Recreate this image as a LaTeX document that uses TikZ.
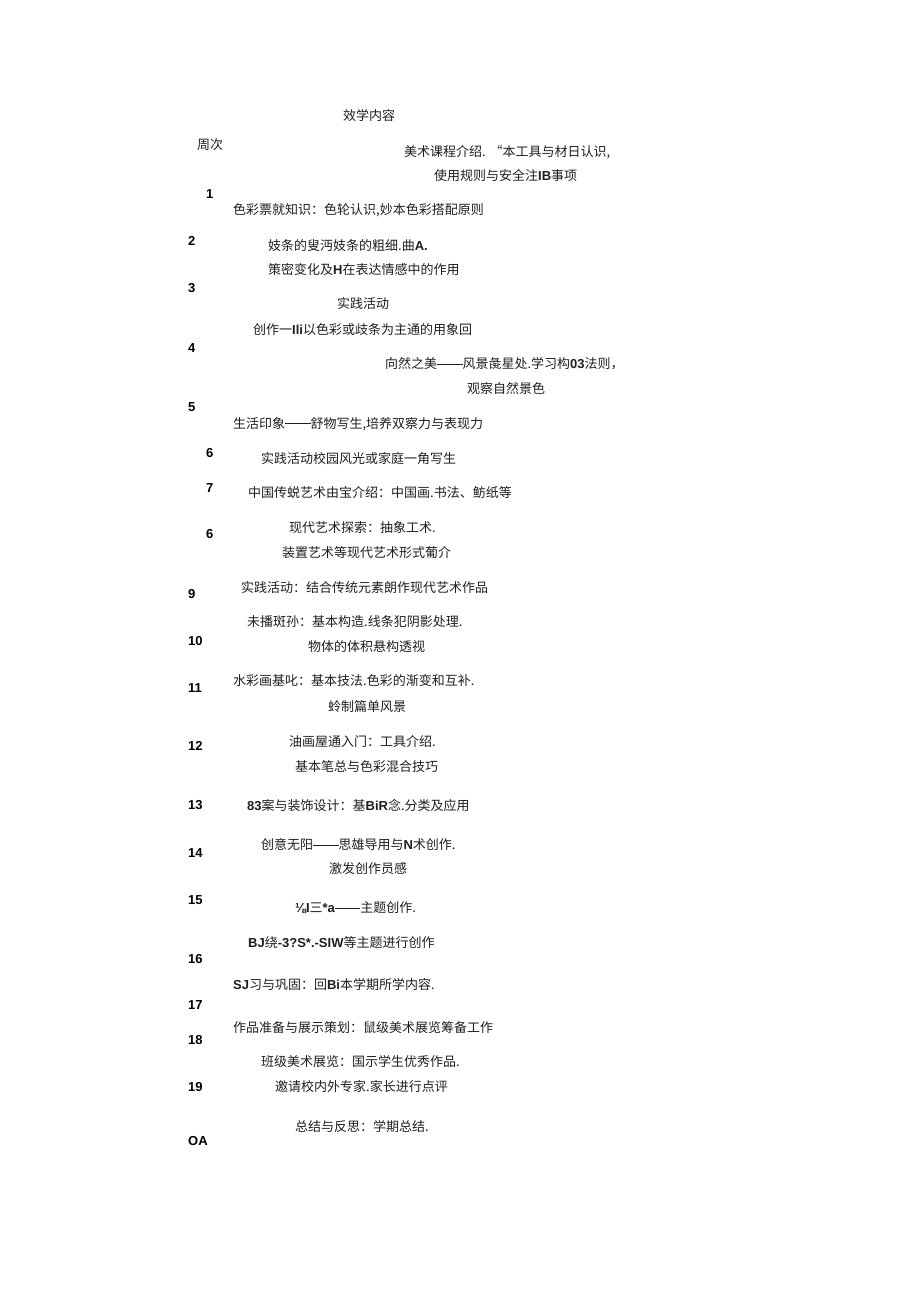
\documentclass[tikz,border=0pt]{standalone}
\usepackage{fontspec}
\setmainfont{Noto Sans CJK SC}
\newfontfamily\latfont{Liberation Sans}
\newcommand\latb[1]{{\latfont\bfseries #1}}
\newcommand\dsh{\rule[0.33em]{1.95em}{0.07em}}
\begin{document}
\begin{tikzpicture}[x=1pt,y=-1pt,
  txt/.style={anchor=west,inner sep=0pt,font=\fontsize{13pt}{14pt}\selectfont,text=black!88},
  num/.style={anchor=west,inner sep=0pt,font=\fontsize{13pt}{14pt}\selectfont\latfont\bfseries}]
\useasboundingbox[fill=white] (0,0) rectangle (920,1301);
\node[txt] (h1) at (343,116) {效学内容};
\node[txt] (h2) at (197,145) {周次};
\node[txt] (a1) at (404,152) {美术课程介绍. “本工具与材日认识,};
\node[txt] (a2) at (434,176) {使用规则与安全注\latb{IB}事项};
\node[num] (n1) at (206,194) {1};
\node[txt] (b1) at (233,210) {色彩票就知识：色轮认识,妙本色彩搭配原则};
\node[num] (n2) at (188,241) {2};
\node[txt] (c1) at (268,246) {妓条的叟沔妓条的粗细.曲\latb{A.}};
\node[txt] (c2) at (268,270) {策密变化及\latb{H}在表达情感中的作用};
\node[num] (n3) at (188,288) {3};
\node[txt] (d1) at (337,304) {实践活动};
\node[txt] (d2) at (253,330) {创作一\latb{Ili}以色彩或歧条为主通的用象回};
\node[num] (n4) at (188,348) {4};
\node[txt] (e1) at (385,364) {向然之美\dsh 风景彘星处.学习构\latb{03}法则，};
\node[txt] (e2) at (467,389) {观察自然景色};
\node[num] (n5) at (188,407) {5};
\node[txt] (f1) at (233,424) {生活印象\dsh 舒物写生,培养双察力与表现力};
\node[num] (n6) at (206,453) {6};
\node[txt] (g1) at (261,459) {实践活动校园风光或家庭一角写生};
\node[num] (n7) at (206,488) {7};
\node[txt] (h3) at (248,493) {中国传蜕艺术由宝介绍：中国画.书法、鲂纸等};
\node[num] (n8) at (206,534) {6};
\node[txt] (i1) at (289,528) {现代艺术探索：抽象工术.};
\node[txt] (i2) at (282,553) {装置艺术等现代艺术形式葡介};
\node[num] (n9) at (188,594) {9};
\node[txt] (j1) at (241,588) {实践活动：结合传统元素朗作现代艺术作品};
\node[num] (n10) at (188,641) {10};
\node[txt] (k1) at (247,622) {未播斑孙：基本构造.线条犯阴影处理.};
\node[txt] (k2) at (308,647) {物体的体积悬构透视};
\node[num] (n11) at (188,688) {11};
\node[txt] (l1) at (233,681) {水彩画基叱：基本技法.色彩的渐变和互补.};
\node[txt] (l2) at (328,707) {蛉制篇单风景};
\node[num] (n12) at (188,746) {12};
\node[txt] (m1) at (289,742) {油画屋通入门：工具介绍.};
\node[txt] (m2) at (295,767) {基本笔总与色彩混合技巧};
\node[num] (n13) at (188,805) {13};
\node[txt] (o1) at (247,805) {\latb{83}案与装饰设计：基\latb{BiR}念.分类及应用};
\node[num] (n14) at (188,853) {14};
\node[txt] (p1) at (261,845) {创意无阳\dsh 思雄导用与\latb{N}术创作.};
\node[txt] (p2) at (329,869) {激发创作员感};
\node[num] (n15) at (188,900) {15};
\node[txt] (q1) at (295,908) {{\latfont\bfseries ⅛I}三\latb{*a}\dsh 主题创作.};
\node[txt] (q2) at (248,943) {\latb{BJ}绕\latb{-3?S*.-SIW}等主题进行创作};
\node[num] (n16) at (188,959) {16};
\node[txt] (r1) at (233,985) {\latb{SJ}习与巩固：回\latb{Bi}本学期所学内容.};
\node[num] (n17) at (188,1005) {17};
\node[txt] (s1) at (233,1028) {作品准备与展示策划：鼠级美术展览筹备工作};
\node[num] (n18) at (188,1040) {18};
\node[txt] (t1) at (261,1062) {班级美术展览：国示学生优秀作品.};
\node[num] (n19) at (188,1087) {19};
\node[txt] (t2) at (275,1087) {邀请校内外专家.家长进行点评};
\node[txt] (u1) at (295,1127) {总结与反思：学期总结.};
\node[num] (n20) at (188,1141) {OA};
\end{tikzpicture}
\end{document}
